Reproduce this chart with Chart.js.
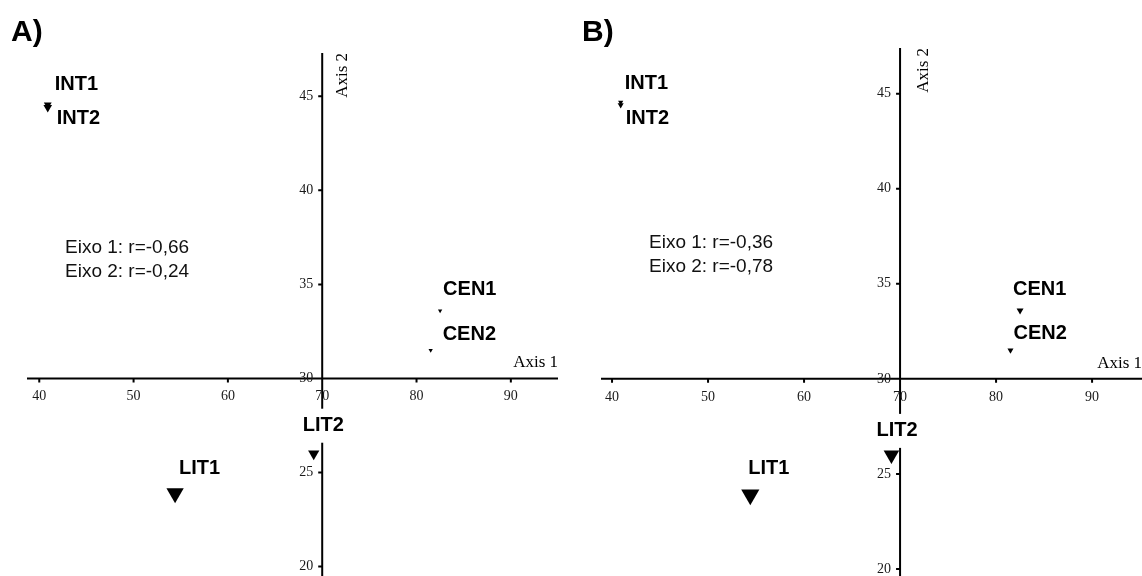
<!DOCTYPE html>
<html>
<head>
<meta charset="utf-8">
<script src="https://cdn.jsdelivr.net/npm/chart.js@4.4.1/dist/chart.umd.min.js"></script>
<style>
  body { margin: 0; background: #fff; }
  .panel { position: absolute; top: 0; }
  #panelA { left: 0; }
  #panelB { left: 571px; }
</style>
</head>
<body>
<canvas id="panelA" class="panel" width="571" height="576"></canvas>
<canvas id="panelB" class="panel" width="571" height="576"></canvas>
<script>
// site scores (same ordination in both panels)
const sites = ["INT1", "INT2", "CEN1", "CEN2", "LIT1", "LIT2"];
const axis1 = [40.9, 40.9, 82.5, 81.5, 54.4, 69.1];
const axis2 = [44.55, 44.4, 33.6, 31.5, 23.9, 26.0];
const axis1Ticks = [40, 50, 60, 70, 80, 90];
const axis2Ticks = [20, 25, 30, 35, 40, 45];
const crossAt = [70, 30];
const corrA = ["Eixo 1: r=-0,66", "Eixo 2: r=-0,24"];
const corrB = ["Eixo 1: r=-0,36", "Eixo 2: r=-0,78"];

const serif = "'Liberation Serif', 'Times New Roman', serif";
const sans = "'Liberation Sans', Arial, sans-serif";

const panels = [
  {
    id: "panelA", tag: "A)", corr: corrA,
    radius: [4.5, 5, 2.5, 2.5, 10, 6.5],
    labelShift: [[7, -20], [9, 11], [3, -21], [12, -16], [4, -25], [-11, -28]],
    xRange: [38.7, 95.0], yRange: [19.5, 47.3],
    pad: { left: 27, right: 13, top: 53, bottom: 0 },
    tagPos: [11, 41], corrPos: [65, 253], titleGap: 25
  },
  {
    id: "panelB", tag: "B)", corr: corrB,
    radius: [3, 3.5, 4, 3.5, 10.5, 9],
    labelShift: [[4, -19], [5, 13], [-7, -21], [3, -17], [-2, -26], [-15, -24]],
    xRange: [38.85, 95.2], yRange: [19.63, 47.4],
    pad: { left: 30, right: 0, top: 48, bottom: 0 },
    tagPos: [11, 41], corrPos: [78, 248], titleGap: 28
  }
];

const crossAxes = {
  id: "crossAxes",
  beforeDatasetsDraw(chart, args, opts) {
    const ctx = chart.ctx;
    const xs = chart.scales.x, ys = chart.scales.y;
    const area = chart.chartArea;
    const ox = xs.getPixelForValue(crossAt[0]);
    const oy = ys.getPixelForValue(crossAt[1]);
    ctx.save();

    // axis lines and ticks
    ctx.strokeStyle = "#000";
    ctx.lineWidth = 2;
    ctx.beginPath();
    ctx.moveTo(area.left, oy); ctx.lineTo(area.right, oy);
    ctx.moveTo(ox, area.top); ctx.lineTo(ox, area.bottom);
    axis1Ticks.forEach(v => {
      const px = xs.getPixelForValue(v);
      ctx.moveTo(px, oy); ctx.lineTo(px, oy + 4);
    });
    axis2Ticks.forEach(v => {
      const py = ys.getPixelForValue(v);
      ctx.moveTo(ox, py); ctx.lineTo(ox - 4, py);
    });
    ctx.stroke();

    // tick labels
    ctx.fillStyle = "#1a1a1a";
    ctx.font = "14px " + serif;
    ctx.textAlign = "center";
    ctx.textBaseline = "alphabetic";
    axis1Ticks.forEach(v => ctx.fillText(String(v), xs.getPixelForValue(v), oy + 22));
    ctx.textAlign = "right";
    ctx.textBaseline = "middle";
    axis2Ticks.forEach(v => ctx.fillText(String(v), ox - 9, ys.getPixelForValue(v)));

    // axis titles
    ctx.fillStyle = "#000";
    ctx.font = "17px " + serif;
    ctx.textAlign = "right";
    ctx.textBaseline = "alphabetic";
    ctx.fillText("Axis 1", area.right, oy - 11);
    ctx.save();
    ctx.translate(ox + opts.titleGap, area.top);
    ctx.rotate(-Math.PI / 2);
    ctx.fillText("Axis 2", 0, 0);
    ctx.restore();

    // site labels on white boxes
    ctx.font = "bold 20px " + sans;
    ctx.textAlign = "left";
    ctx.textBaseline = "middle";
    sites.forEach((s, i) => {
      const px = xs.getPixelForValue(axis1[i]) + opts.labelShift[i][0];
      const py = ys.getPixelForValue(axis2[i]) + opts.labelShift[i][1];
      const w = ctx.measureText(s).width;
      ctx.fillStyle = "#fff";
      ctx.fillRect(px - 2, py - 17, w + 4, 34);
      ctx.fillStyle = "#000";
      ctx.fillText(s, px, py);
    });

    // panel tag and correlations
    ctx.font = "bold 30px " + sans;
    ctx.textBaseline = "alphabetic";
    ctx.fillText(opts.tag, opts.tagPos[0], opts.tagPos[1]);
    ctx.font = "19px " + sans;
    ctx.fillStyle = "#111";
    opts.corr.forEach((t, k) => ctx.fillText(t, opts.corrPos[0], opts.corrPos[1] + k * 24));

    ctx.restore();
  }
};

panels.forEach(p => {
  new Chart(document.getElementById(p.id), {
    type: "scatter",
    data: {
      labels: sites,
      datasets: [{
        data: axis1.map((x, i) => ({ x: x, y: axis2[i] })),
        pointStyle: "triangle",
        rotation: 180,
        pointRadius: p.radius,
        pointHoverRadius: p.radius,
        backgroundColor: "#000",
        borderWidth: 0,
        clip: false
      }]
    },
    options: {
      responsive: false,
      animation: false,
      devicePixelRatio: 1,
      layout: { padding: p.pad, autoPadding: false },
      scales: {
        x: { type: "linear", display: false, min: p.xRange[0], max: p.xRange[1] },
        y: { type: "linear", display: false, min: p.yRange[0], max: p.yRange[1] }
      },
      plugins: {
        legend: { display: false },
        tooltip: { enabled: false },
        crossAxes: p
      }
    },
    plugins: [crossAxes]
  });
});
</script>
</body>
</html>
